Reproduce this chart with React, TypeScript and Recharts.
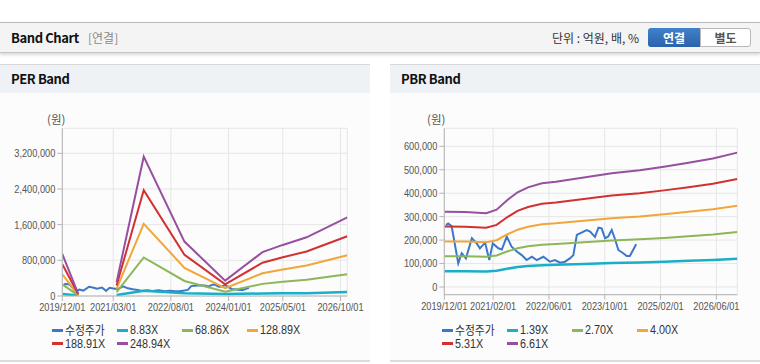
import React from 'react';
import { LineChart, Line, XAxis, YAxis, CartesianGrid } from 'recharts';

// ---------- PER band data ----------
const perMonths = [0, 4.7, 10, 16, 24, 36, 48, 59, 65, 72, 84];
const perBand883 = [45000, 10000, null, 20000, 120000, 60000, 45000, 55000, 60000, 62000, 90000];
const perBand6886 = [260000, 14000, null, 86000, 864000, 337000, 95000, 272000, 317000, 364000, 488000];
const perBand12889 = [487000, 26000, null, 161000, 1618000, 632000, 178000, 509000, 593000, 682000, 914000];
const perBand18891 = [714000, 38000, null, 236000, 2371000, 926000, 261000, 746000, 869000, 999000, 1339000];
const perBand24894 = [942000, 50000, null, 311000, 3124000, 1220000, 344000, 983000, 1145000, 1316000, 1765000];
const perLabels = ['수정주가', '8.83X', '68.86X', '128.89X', '188.91X', '248.94X'];
const perXTicks = [0, 15, 32, 49, 65, 82];
const perXLabels = ['2019/12/01', '2021/03/01', '2022/08/01', '2024/01/01', '2025/05/01', '2026/10/01'];
const perYTicks = [0, 800000, 1600000, 2400000, 3200000];

// ---------- PBR band data ----------
const pbrMonths = [0, 6, 12, 15, 18, 21, 24, 28, 32, 40, 48, 56, 63, 70, 77, 84];
const pbrBand139 = [67500, 67300, 66200, 69400, 77800, 84900, 89400, 93000, 94400, 98300, 102000, 104700, 107900, 111500, 115200, 120500];
const pbrBand270 = [131100, 130700, 128700, 134700, 151200, 165000, 173600, 180600, 183300, 190900, 198200, 203300, 209500, 216500, 223800, 234100];
const pbrBand400 = [194200, 193600, 190600, 199600, 224000, 244400, 257200, 267600, 271600, 282800, 293600, 301200, 310400, 320800, 331600, 346800];
const pbrBand531 = [257900, 257000, 253100, 265000, 297400, 324400, 341400, 355200, 360500, 375400, 389800, 399800, 412100, 425900, 440200, 460400];
const pbrBand661 = [321000, 319900, 315000, 329800, 370200, 403900, 425000, 442200, 448800, 467300, 485200, 497700, 512900, 530100, 548000, 573100];
const pbrLabels = ['수정주가', '1.39X', '2.70X', '4.00X', '5.31X', '6.61X'];
const pbrXTicks = [0, 14, 30, 46, 62, 78];
const pbrXLabels = ['2019/12/01', '2021/02/01', '2022/06/01', '2023/10/01', '2025/02/01', '2026/06/01'];
const pbrYTicks = [0, 100000, 200000, 300000, 400000, 500000, 600000];

// ---------- adjusted price (수정주가) ----------
const priceMonths = [0.5, 1.1, 2.1, 4.0, 5.0, 6.2, 7.9, 9.3, 10.2, 11.7, 12.9, 13.9, 15.5, 16.5, 17.9, 19.3, 20.8, 22.2, 23.6, 25.1, 26.5, 28.4, 30.3, 31.7, 33.2, 34.6, 36.0, 37.0, 38.0, 38.9, 40.8, 41.8, 43.2, 44.2, 45.1, 46.1, 47.0, 48.0, 48.9, 49.9, 51.3, 52.3, 53.2, 55.0];
const priceValues = [264000, 271000, 260000, 101000, 144000, 122000, 208000, 186000, 165000, 189000, 115000, 186000, 165000, 160000, 215000, 172000, 151000, 136000, 115000, 129000, 115000, 129000, 108000, 115000, 104000, 108000, 122000, 136000, 222000, 229000, 243000, 236000, 214000, 253000, 250000, 208000, 215000, 243000, 206000, 158000, 144000, 132000, 132000, 182000];

const COLORS = ['#3b78c8', '#1aafc6', '#8cb657', '#f2a63a', '#d1312f', '#984fa0'];

const priceData = priceMonths.map((m, i) => ({ m, v: priceValues[i] }));
const perData = perMonths.map((m, i) => ({
  m, b1: perBand883[i], b2: perBand6886[i], b3: perBand12889[i], b4: perBand18891[i], b5: perBand24894[i],
}));
const pbrData = pbrMonths.map((m, i) => ({
  m, b1: pbrBand139[i], b2: pbrBand270[i], b3: pbrBand400[i], b4: pbrBand531[i], b5: pbrBand661[i],
}));

const NUM_FONT = '"Liberation Sans", Arial, sans-serif';
const KR_FONT = '"Noto Sans CJK KR", "Noto Sans", sans-serif';

const fmt = (v: number) => v.toLocaleString('en-US');

function NarrowTick(props: any) {
  const { x, y, payload, textAnchor, labelOf, dy } = props;
  return (
    <g transform={`translate(${x},${y})`}>
      <text transform="scale(0.84,1)" textAnchor={textAnchor} dy={dy} fill="#555"
        fontSize={11} fontFamily={NUM_FONT}>{labelOf(payload.value)}</text>
    </g>
  );
}

type BandProps = {
  data: any[];
  xTicks: number[];
  xLabels: string[];
  yTicks: number[];
  yDomain: [number, number];
  yWidth: number;
  bottom: number;
};

function BandPlot({ data, xTicks, xLabels, yTicks, yDomain, yWidth, bottom }: BandProps) {
  const border = '#b4b4b4';
  const xLabelOf = (v: number) => xLabels[xTicks.indexOf(v)] ?? '';
  return (
    <LineChart width={370} height={230} data={data}
      margin={{ top: 36.3, right: 22.7, left: 0, bottom: bottom }}>
      <CartesianGrid stroke="#e6e6e6" strokeWidth={1} />
      <XAxis dataKey="m" type="number" domain={[0, 84]} allowDataOverflow ticks={xTicks}
        tick={<NarrowTick labelOf={xLabelOf} dy="0.71em" />} tickSize={5} tickMargin={2} height={20}
        axisLine={{ stroke: border }} tickLine={{ stroke: border }} interval={0} />
      <XAxis xAxisId="top" orientation="top" type="number" domain={[0, 1]} height={0}
        tick={false} tickLine={false} axisLine={{ stroke: border }} />
      <YAxis type="number" domain={yDomain} allowDataOverflow ticks={yTicks}
        tick={<NarrowTick labelOf={fmt} dy="0.355em" />} tickSize={5} tickMargin={2} width={yWidth}
        axisLine={{ stroke: border }} tickLine={{ stroke: border }} interval={0} />
      <YAxis yAxisId="right" orientation="right" type="number" domain={[0, 1]} width={0}
        tick={false} tickLine={false} axisLine={{ stroke: border }} />
      <Line data={priceData} dataKey="v" stroke={COLORS[0]} strokeWidth={2} dot={false} isAnimationActive={false} />
      <Line dataKey="b1" stroke={COLORS[1]} strokeWidth={2.5} dot={false} isAnimationActive={false} connectNulls={false} />
      <Line dataKey="b2" stroke={COLORS[2]} strokeWidth={2} dot={false} isAnimationActive={false} connectNulls={false} />
      <Line dataKey="b3" stroke={COLORS[3]} strokeWidth={2} dot={false} isAnimationActive={false} connectNulls={false} />
      <Line dataKey="b4" stroke={COLORS[4]} strokeWidth={2} dot={false} isAnimationActive={false} connectNulls={false} />
      <Line dataKey="b5" stroke={COLORS[5]} strokeWidth={2} dot={false} isAnimationActive={false} connectNulls={false} />
    </LineChart>
  );
}

function LegendBlock({ labels }: { labels: string[] }) {
  const cols = [52, 117, 182, 247];
  return (
    <>
      {labels.map((lab, i) => {
        const row = i < 4 ? 0 : 1;
        const col = i < 4 ? i : i - 4;
        const isKr = /[^\x00-\x7f]/.test(lab);
        return (
          <div key={lab} style={{ position: 'absolute', left: cols[col], top: 322 + row * 13.5, height: 16, display: 'flex', alignItems: 'center', whiteSpace: 'nowrap' }}>
            <span style={{ display: 'inline-block', width: 11, height: 3, background: COLORS[i], marginRight: 2 }} />
            <span style={{ display: 'inline-block', transform: 'scaleX(0.9)', transformOrigin: 'left center', fontFamily: isKr ? KR_FONT : NUM_FONT, fontSize: 12, color: '#333', lineHeight: '16px' }}>{lab}</span>
          </div>
        );
      })}
    </>
  );
}

function Panel({ left, title, children, legend, unitLeft }: any) {
  return (
    <div style={{ position: 'absolute', left, top: 64, width: 370, height: 298, background: '#fcfcfc', borderTop: '1px solid #d8d8d8', borderBottom: '2px solid #dcdcdc', boxSizing: 'border-box' }}>
      <div style={{ position: 'absolute', left: 0, top: 0, width: 370, height: 28, background: '#eef1f6' }}>
        <div style={{ position: 'absolute', left: 11, top: 4, fontFamily: KR_FONT, fontWeight: 700, fontSize: 13, letterSpacing: '-0.4px', lineHeight: '20px', color: '#111' }}>{title}</div>
      </div>
      <div style={{ position: 'absolute', left: unitLeft, top: 46, fontFamily: KR_FONT, fontSize: 11.5, lineHeight: '16px', color: '#555' }}>(원)</div>
      <div style={{ position: 'absolute', left: 0, top: 28 - 1 }}>{children}</div>
      <div style={{ position: 'absolute', left: 0, top: -64 - 1 }}>{legend}</div>
    </div>
  );
}

export default function App() {
  return (
    <div style={{ position: 'absolute', left: 0, top: 0, width: 760, height: 364, background: '#fff', overflow: 'hidden', fontFamily: KR_FONT }}>
      <div style={{ position: 'absolute', left: 0, top: 22, width: 760, height: 31, background: '#f4f4f4', borderTop: '1px solid #b8b8b8', borderBottom: '1px solid #c4c4c4', boxShadow: '0 2px 3px rgba(0,0,0,0.15)', boxSizing: 'border-box' }}>
        <div style={{ position: 'absolute', left: 11, top: 5, fontWeight: 700, fontSize: 13, letterSpacing: '-0.4px', lineHeight: '20px', color: '#111' }}>Band Chart</div>
        <div style={{ position: 'absolute', left: 88, top: 6, fontSize: 12, lineHeight: '18px', color: '#8a8a8a' }}>[연결]</div>
        <div style={{ position: 'absolute', left: 552, top: 6, fontSize: 12, lineHeight: '18px', color: '#333' }}>단위 : 억원, 배, %</div>
        <div style={{ position: 'absolute', left: 648, top: 5, width: 52, height: 19, borderRadius: '3px 0 0 3px', background: 'linear-gradient(#3f82cb, #2a62ab)', color: '#fff', fontWeight: 700, fontSize: 12, lineHeight: '19px', textAlign: 'center' }}>연결</div>
        <div style={{ position: 'absolute', left: 700, top: 5, width: 51, height: 19, borderRadius: '0 3px 3px 0', background: '#fff', border: '1px solid #b8b8b8', boxSizing: 'border-box', color: '#555', fontWeight: 700, fontSize: 12, lineHeight: '17px', textAlign: 'center' }}>별도</div>
      </div>

      <Panel left={0} title="PER Band" unitLeft={47}
        legend={<div style={{ position: 'absolute', left: 0, top: 0 }}><LegendBlock labels={perLabels} /></div>}>
        <BandPlot data={perData} xTicks={perXTicks} xLabels={perXLabels}
          yTicks={perYTicks} yDomain={[0, 3760000]} yWidth={62.3} bottom={6} />
      </Panel>

      <Panel left={390} title="PBR Band" unitLeft={37}
        legend={<div style={{ position: 'absolute', left: 0, top: 0 }}><LegendBlock labels={pbrLabels} /></div>}>
        <BandPlot data={pbrData} xTicks={pbrXTicks} xLabels={pbrXLabels}
          yTicks={pbrYTicks} yDomain={[-32800, 676800]} yWidth={54.3} bottom={7.3} />
      </Panel>
    </div>
  );
}
